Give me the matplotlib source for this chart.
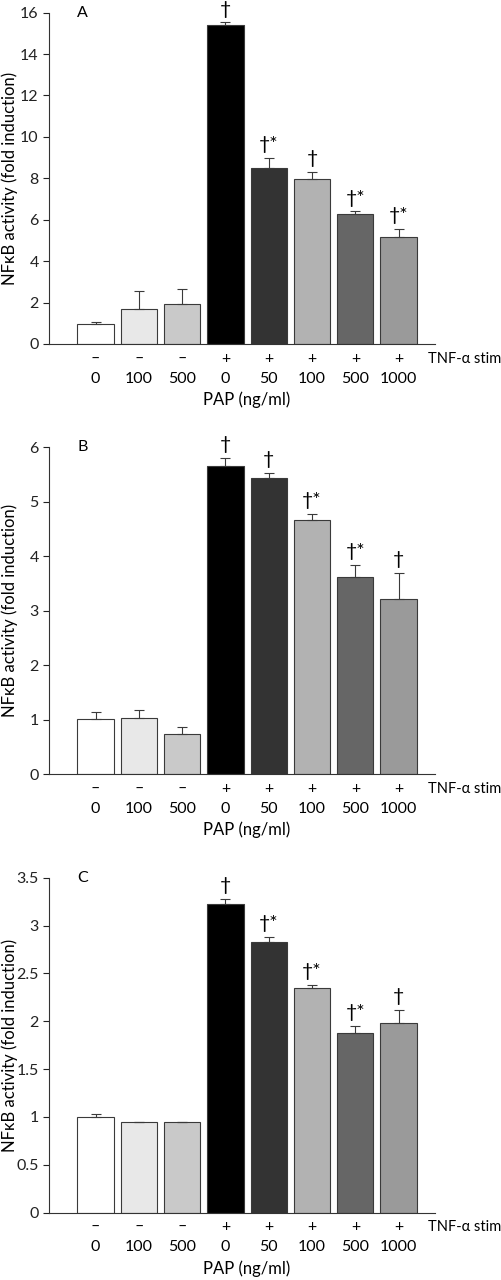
import matplotlib
matplotlib.use("Agg")
import matplotlib.pyplot as plt

plt.rcParams['font.family'] = ['Lato', 'DejaVu Sans']

# x categories
tnf_stim = ["–", "–", "–", "+", "+", "+", "+", "+"]
pap_dose = ["0", "100", "500", "0", "50", "100", "500", "1000"]
bar_colors = ["#ffffff", "#e8e8e8", "#c9c9c9", "#000000",
              "#333333", "#b2b2b2", "#666666", "#9a9a9a"]

# panel A
a_vals = [0.98, 1.71, 1.95, 15.40, 8.50, 7.97, 6.30, 5.18]
a_errs = [0.10, 0.83, 0.69, 0.13, 0.50, 0.34, 0.10, 0.39]
a_marks = ["", "", "", "†", "†*", "†", "†*", "†*"]
a_ticks = [0, 2, 4, 6, 8, 10, 12, 14, 16]

# panel B
b_vals = [1.01, 1.03, 0.74, 5.66, 5.43, 4.67, 3.62, 3.21]
b_errs = [0.13, 0.15, 0.12, 0.15, 0.10, 0.11, 0.22, 0.48]
b_marks = ["", "", "", "†", "†", "†*", "†*", "†"]
b_ticks = [0, 1, 2, 3, 4, 5, 6]

# panel C
c_vals = [1.00, 0.95, 0.95, 3.22, 2.83, 2.35, 1.88, 1.98]
c_errs = [0.03, 0.0, 0.0, 0.06, 0.05, 0.03, 0.07, 0.14]
c_marks = ["", "", "", "†", "†*", "†*", "†*", "†"]
c_ticks = [0, 0.5, 1, 1.5, 2, 2.5, 3, 3.5]
c_tick_labels = ["0", "0.5", "1", "1.5", "2", "2.5", "3", "3.5"]

FS = 11.5


def draw_panel(ax, vals, errs, marks, ticks, letter, tick_labels=None):
    x = list(range(len(vals)))
    lower = [0] * len(vals)
    ax.bar(x, vals, width=0.84, color=bar_colors, edgecolor="#3a3a3a",
           linewidth=0.8, yerr=[lower, errs], capsize=3.5,
           error_kw=dict(ecolor="#3a3a3a", elinewidth=0.8, capthick=0.8))

    for i, m in enumerate(marks):
        if m:
            ax.annotate(m, xy=(i, vals[i] + errs[i]), xytext=(0, 3.5),
                        textcoords="offset points", ha="center", va="bottom",
                        fontsize=14)

    ax.set_xlim(-1.07, 7.84)
    ax.set_ylim(0, ticks[-1])
    ax.set_yticks(ticks)
    if tick_labels is not None:
        ax.set_yticklabels(tick_labels)
    ax.set_xticks([])
    ax.tick_params(axis="y", direction="out", length=4, width=0.8,
                   labelsize=FS, colors="#222222")
    for s in ["top", "right"]:
        ax.spines[s].set_visible(False)
    for s in ["left", "bottom"]:
        ax.spines[s].set_linewidth(0.8)
        ax.spines[s].set_color("#333333")

    ax.set_ylabel("NFκB activity (fold induction)", fontsize=FS + 0.5)
    ax.yaxis.set_label_coords(-0.082, 0.5)

    ax.text(-0.42, ticks[-1], letter, ha="left", va="center", fontsize=FS)

    # rows under the axis
    for i in x:
        ax.annotate(tnf_stim[i], xy=(i, 0), xycoords=("data", "axes fraction"),
                    xytext=(0, -10.5), textcoords="offset points",
                    ha="center", va="center", fontsize=FS, annotation_clip=False)
        ax.annotate(pap_dose[i], xy=(i, 0), xycoords=("data", "axes fraction"),
                    xytext=(0, -25), textcoords="offset points",
                    ha="center", va="center", fontsize=FS, annotation_clip=False)
    ax.annotate("TNF-α stim", xy=(7.68, 0), xycoords=("data", "axes fraction"),
                xytext=(0, -10.5), textcoords="offset points",
                ha="left", va="center", fontsize=10.5, annotation_clip=False)
    ax.annotate("PAP (ng/ml)", xy=(3.5, 0), xycoords=("data", "axes fraction"),
                xytext=(0, -40), textcoords="offset points",
                ha="center", va="center", fontsize=FS + 0.5, annotation_clip=False)


fig = plt.figure(figsize=(5.02, 12.8), dpi=100)
left, width = 0.098, 0.7685
ax_a = fig.add_axes([left, 0.7313, width, 0.2588])
ax_b = fig.add_axes([left, 0.3953, width, 0.2552])
ax_c = fig.add_axes([left, 0.0526, width, 0.2617])

draw_panel(ax_a, a_vals, a_errs, a_marks, a_ticks, "A")
draw_panel(ax_b, b_vals, b_errs, b_marks, b_ticks, "B")
draw_panel(ax_c, c_vals, c_errs, c_marks, c_ticks, "C", c_tick_labels)

fig.savefig("out.png", dpi=100)
